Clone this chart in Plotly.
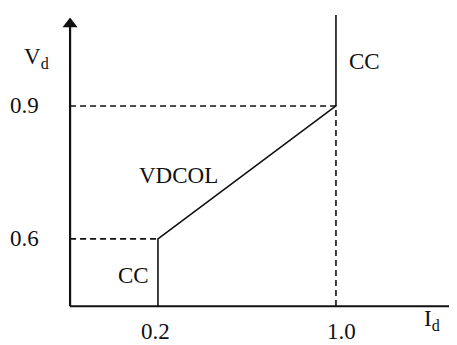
import plotly.graph_objects as go

# characteristic (schematic) values
i_ticks = [0.2, 1.0]
i_tick_labels = ["0.2", "1.0"]
v_ticks = [0.9, 0.6]
v_tick_labels = ["0.9", "0.6"]

# origin of the drawn axes (schematic, not at zero)
i_origin = -0.195
v_origin = 0.448
i_axis_end = 1.53
v_axis_end = 1.10

# control curve: CC at low current, VDCOL ramp, CC at rated current
curve_i = [0.2, 0.2, 1.0, 1.0]
curve_v = [v_origin, 0.6, 0.9, 1.105]

# dashed guide lines
guide_a_i = [i_origin, 1.0, 1.0]
guide_a_v = [0.9, 0.9, v_origin]
guide_b_i = [i_origin, 0.2]
guide_b_v = [0.6, 0.6]

FONT = "Liberation Serif, Times New Roman, serif"
ink = "#111111"

fig = go.Figure()

# axes
fig.add_trace(go.Scatter(x=[i_origin, i_axis_end], y=[v_origin, v_origin], mode="lines",
                         line=dict(color=ink, width=2), hoverinfo="skip"))
fig.add_trace(go.Scatter(x=[i_origin, i_origin], y=[v_origin, v_axis_end - 0.02], mode="lines",
                         line=dict(color=ink, width=2.2), hoverinfo="skip"))
fig.add_trace(go.Scatter(x=[i_origin], y=[v_axis_end - 0.015], mode="markers",
                         marker=dict(symbol="triangle-up", size=13, color=ink), hoverinfo="skip"))
fig.add_trace(go.Scatter(x=[i_axis_end], y=[v_origin], mode="markers",
                         marker=dict(symbol="line-ns", size=12, line=dict(color=ink, width=2.5)),
                         hoverinfo="skip"))

# guides
fig.add_trace(go.Scatter(x=guide_a_i, y=guide_a_v, mode="lines",
                         line=dict(color=ink, width=1.6, dash="6px,4px"), hoverinfo="skip"))
fig.add_trace(go.Scatter(x=guide_b_i, y=guide_b_v, mode="lines",
                         line=dict(color=ink, width=1.6, dash="6px,4px"), hoverinfo="skip"))

# curve
fig.add_trace(go.Scatter(x=curve_i, y=curve_v, mode="lines",
                         line=dict(color=ink, width=1.6), hoverinfo="skip"))

annots = []
for v, lab in zip(v_ticks, v_tick_labels):
    annots.append(dict(x=-0.40, y=v, text=lab))
for i, lab in zip(i_ticks, i_tick_labels):
    annots.append(dict(x=i - 0.01 + (0.035 if i == 1.0 else 0), y=0.392, text=lab))
annots += [
    dict(x=-0.348, y=1.008, text="V<sub>d</sub>"),
    dict(x=1.432, y=0.417, text="I<sub>d</sub>"),
    dict(x=1.126, y=1.0, text="CC"),
    dict(x=0.294, y=0.744, text="VDCOL"),
    dict(x=0.088, y=0.518, text="CC"),
]
for a in annots:
    a.update(showarrow=False, xanchor="center", yanchor="middle",
             font=dict(family=FONT, size=23, color=ink))

# page body adds 8px offset, so the figure is 8px smaller and ranges shifted
fig.update_layout(
    width=449, height=337,
    margin=dict(l=0, r=0, t=0, b=0),
    paper_bgcolor="white", plot_bgcolor="white",
    showlegend=False,
    annotations=annots,
    xaxis=dict(range=[-0.474, 1.544], visible=False, fixedrange=True),
    yaxis=dict(range=[0.3605, 1.121], visible=False, fixedrange=True),
)

fig.write_html("out.html")
